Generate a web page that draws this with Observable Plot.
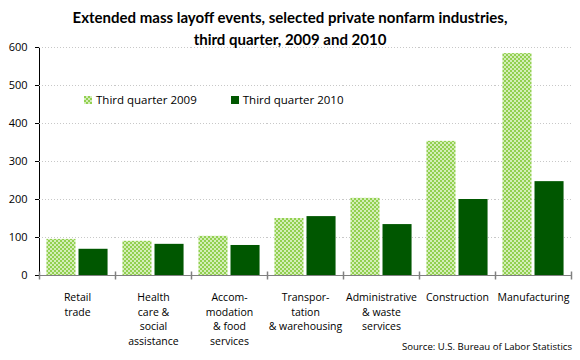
<!DOCTYPE html>
<html>
<head>
<meta charset="utf-8">
<script src="https://cdn.jsdelivr.net/npm/d3@7"></script>
<script src="https://cdn.jsdelivr.net/npm/@observablehq/plot@0.6"></script>
<style>
  body { margin: 0; background: #fff; }
  #wrap { position: relative; width: 580px; height: 360px; overflow: hidden; font-family: "Open Sans", sans-serif; }
  #title { position: absolute; left: 0; top: 6px; width: 580px; text-align: center; font-family: Lato, sans-serif; font-weight: bold; font-size: 15px; line-height: 22px; color: #000; }
  #source { position: absolute; right: 8px; top: 340px; font-size: 9.6px; color: #000; }
  #legend { position: absolute; left: 84px; top: 92px; font-size: 11.5px; color: #000; display: flex; }
  .item { display: flex; align-items: center; margin-right: 34px; }
  .sw { width: 8px; height: 8px; margin-right: 4px; }
</style>
</head>
<body>
<div id="wrap">
  <div id="chart"></div>
  <div id="title">Extended mass layoff events, selected private nonfarm industries,<br>third quarter, 2009 and 2010</div>
  <div id="legend"></div>
  <div id="source">Source: U.S. Bureau of Labor Statistics</div>
</div>
<script>
const categories = [
  "Retail\ntrade",
  "Health\ncare &\nsocial\nassistance",
  "Accom-\nmodation\n& food\nservices",
  "Transpor-\ntation\n& warehousing",
  "Administrative\n& waste\nservices",
  "Construction",
  "Manufacturing"
];
const seriesNames = ["Third quarter 2009", "Third quarter 2010"];
const q2009 = [95, 90, 103, 150, 203, 353, 584];
const q2010 = [69, 82, 79, 155, 134, 200, 247];
const yTicks = [0, 100, 200, 300, 400, 500, 600];

const lightFill = "url(#chk)";
const darkFill = "#005700";

const rows = [];
categories.forEach((c, i) => {
  rows.push({ind: c, series: seriesNames[0], value: q2009[i]});
  rows.push({ind: c, series: seriesNames[1], value: q2010[i]});
});

const tickSym = { draw(ctx) { ctx.moveTo(0, -4); ctx.lineTo(0, 4); } };

const chart = Plot.plot({
  width: 580,
  height: 360,
  marginTop: 47,
  marginBottom: 85,
  marginLeft: 39,
  marginRight: 9,
  style: { fontFamily: "Open Sans, sans-serif", fontSize: "11px", color: "#000", background: "transparent" },
  fx: { domain: categories, padding: 0, round: false, label: null, axis: null },
  x: { domain: seriesNames, paddingInner: 0.094, paddingOuter: 0.232, round: false, axis: null },
  y: { domain: [0, 600], ticks: yTicks, label: null, tickSize: 4, tickPadding: 8, line: true },
  marks: [
    Plot.gridY(yTicks.filter(d => d > 0), { stroke: "#c8c8c8", strokeOpacity: 1, strokeDasharray: "1,2" }),
    Plot.barY(rows.filter(d => d.series === seriesNames[0]), { fx: "ind", x: "series", y: "value", fill: lightFill }),
    Plot.barY(rows.filter(d => d.series === seriesNames[1]), { fx: "ind", x: "series", y: "value", fill: darkFill }),
    Plot.ruleY([0], { stroke: "#808080" }),
    Plot.dot(categories, { fx: d => d, frameAnchor: "bottom-left", symbol: tickSym, stroke: "#808080", fill: "none" }),
    Plot.dot(categories.slice(-1), { fx: d => d, frameAnchor: "bottom-right", symbol: tickSym, stroke: "#808080", fill: "none" }),
    Plot.axisFx({ anchor: "bottom", tickSize: 0, tickPadding: 15, lineHeight: 1.4, fontSize: 10.5, label: null })
  ]
});

// checker pattern definition
const ns = "http://www.w3.org/2000/svg";
const defs = document.createElementNS(ns, "defs");
defs.innerHTML = '<pattern id="chk" patternUnits="userSpaceOnUse" width="4" height="4">' +
  '<rect width="4" height="4" fill="#d4eeb8"/><rect width="2" height="2" fill="#92d050"/>' +
  '<rect x="2" y="2" width="2" height="2" fill="#92d050"/></pattern>';
chart.insertBefore(defs, chart.firstChild);
chart.querySelectorAll('[aria-label="frame"]').forEach(e => e.setAttribute("stroke", "#808080"));
document.getElementById("chart").appendChild(chart);

// legend
const legend = document.getElementById("legend");
seriesNames.forEach((name, i) => {
  const item = document.createElement("div");
  item.className = "item";
  const sw = document.createElementNS(ns, "svg");
  sw.setAttribute("class", "sw");
  sw.setAttribute("width", 8); sw.setAttribute("height", 8);
  sw.innerHTML = i === 0
    ? '<defs><pattern id="chk2" patternUnits="userSpaceOnUse" width="4" height="4"><rect width="4" height="4" fill="#d4eeb8"/><rect width="2" height="2" fill="#92d050"/><rect x="2" y="2" width="2" height="2" fill="#92d050"/></pattern></defs><rect width="8" height="8" fill="url(#chk2)"/>'
    : '<rect width="8" height="8" fill="' + darkFill + '"/>';
  item.appendChild(sw);
  const t = document.createElement("span");
  t.textContent = name;
  item.appendChild(t);
  legend.appendChild(item);
});
</script>
</body>
</html>
